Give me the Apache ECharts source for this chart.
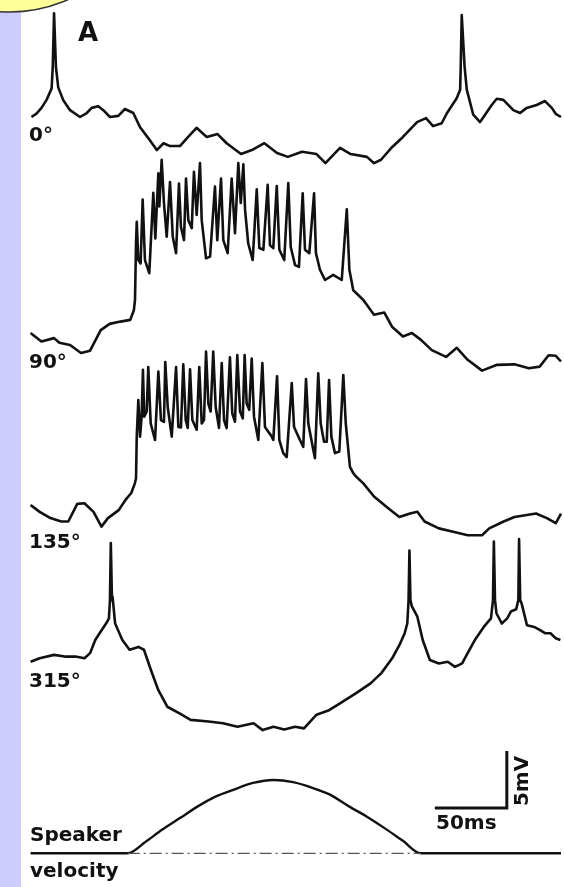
<!DOCTYPE html>
<html>
<head>
<meta charset="utf-8">
<script src="https://cdn.jsdelivr.net/npm/echarts@6/dist/echarts.min.js"></script>
<style>
html, body { margin: 0; padding: 0; background: #fff; }
#chart { width: 564px; height: 887px; }
</style>
</head>
<body>
<div id="chart"></div>
<script>
// [time ms, potential mV relative to the start of the trace]
const trace0 = [[1,0],[4.5,0.3],[8,0.8],[11.5,1.5],[15,2.5],[15.8,4.4],[16.7,9.1],[18,4.4],[19.6,2.6],[23,1.5],[27.8,0.6],[34.7,0],[39.4,0.35],[42.8,0.8],[47.4,0.95],[50.9,0.6],[55.5,0],[61.3,0.1],[65.9,0.7],[71.7,0.35],[76.4,-0.9],[82.1,-1.85],[88,-2.9],[92.7,-2.3],[97.2,-2.55],[104.1,-2.55],[109,-1.85],[115.6,-0.95],[122.7,-1.75],[130.2,-1.5],[136.5,-2.3],[146.5,-3.25],[154,-2.9],[162.7,-2.3],[171.5,-3.15],[179,-3.5],[188.8,-3.05],[198.9,-3.25],[205.1,-4.05],[215.2,-2.7],[222.6,-3.25],[233.9,-3.5],[238.8,-4.05],[243.7,-3.75],[251.3,-2.65],[258.9,-1.75],[268.7,-0.45],[274.9,-0.1],[279.8,-0.8],[285.8,-0.55],[289.5,0.35],[296.2,1.65],[298.6,2.4],[299,4.4],[299.7,8.95],[301.7,4.4],[303.2,2.4],[307.7,0.2],[312.4,-0.45],[315.9,0.2],[320.5,1.05],[324,1.6],[328.6,1.5],[335.5,0.6],[340.2,0.35],[344.8,0.8],[351.7,1.05],[357.5,1.4],[362.2,0.8],[365.2,0.25],[368.6,0]];

const trace90 = [[0.4,0],[7.9,-0.75],[16.7,-0.45],[20.4,-0.85],[27.8,-1.05],[35.4,-1.75],[41.7,-1.55],[49.1,0.25],[55.3,0.8],[62.8,1],[69.6,1.15],[72.1,2],[72.9,2.9],[73.6,7.9],[74.1,9.75],[75.2,6.4],[76.8,6.1],[78.2,11.7],[79.8,6.4],[82.8,5.25],[85.6,12.3],[87,8.3],[89.1,14],[89.8,11.1],[91.4,15.2],[93,11.4],[94.9,8.45],[97.2,13.25],[99.1,8.45],[101.4,7],[103.4,13.1],[104.8,9.3],[106.9,8.15],[108.3,13.55],[109.9,9.9],[112.3,9.2],[113.8,14.15],[115.7,10.35],[118,14.9],[119.2,9.9],[122.2,6.55],[125,6.7],[128.4,12.85],[130,8.15],[132.6,13.55],[134.2,8.15],[137.2,7],[140,13.55],[142.3,8.75],[144.6,14.9],[146.3,11.4],[148.1,14.8],[149.3,10.8],[151.5,7.85],[154.6,6.4],[157.4,12.6],[159.2,7.45],[162,7.3],[165,13],[166.6,7.7],[168.9,7.45],[171.3,12.9],[173.1,7.3],[176.5,6.4],[179.3,13.15],[181,7.55],[184,5.95],[186.7,5.8],[189.3,12.25],[190.9,7.3],[193.9,7],[197.2,12.25],[198.5,7],[201.3,5.55],[204.8,4.65],[210.5,5.1],[216.4,4.65],[219.9,10.85],[221.7,5.55],[224.4,3.75],[231.4,2.9],[238.8,1.6],[245.9,1.8],[251.3,0.55],[258.9,-0.3],[265.1,0],[271.4,-0.6],[278.9,-1.5],[288.8,-2.1],[296.3,-1.3],[303.8,-2.35],[313.8,-3.3],[323.8,-2.8],[336.3,-2.75],[346.3,-3.1],[353.8,-2.95],[360,-1.95],[365,-2],[368.6,-2.5]];

const trace135 = [[0.4,0],[6.7,-0.6],[14.2,-1.15],[21.7,-1.45],[26.6,-1.45],[32.8,0.1],[37.8,0.15],[44.1,-0.6],[49.6,-1.9],[54.1,-1.15],[61.6,-0.45],[66.6,0.5],[70.3,1.05],[72.8,1.9],[73.6,2.35],[74.1,6],[75.2,9.2],[76.4,6],[77.5,7.75],[78.4,11.85],[79.3,7.75],[81,8.2],[82.1,12.1],[83.8,7.15],[86.8,5.7],[89.1,11.7],[90.9,7.45],[93,7.3],[93.9,12.55],[95.6,8.6],[98.4,6],[101.4,12.1],[103,6.85],[104.8,6.8],[106.4,12.35],[108.1,7.45],[109.5,6.75],[111.1,11.9],[112.7,7.45],[115.7,6.6],[117.5,12.1],[119.2,7.15],[120.8,7.45],[122.2,13.45],[123.8,8.9],[125.4,8.2],[127.2,13.45],[128.9,8.6],[131.2,6.75],[133.1,12.45],[134.7,7.45],[136.5,6.75],[138.8,12.95],[140.4,8.05],[142.3,7.3],[143.9,13.15],[145.8,8.2],[147.7,7.6],[149,13.15],[150.4,8.9],[152.2,8.35],[153.9,12.85],[155.5,7.75],[158.5,5.7],[161.3,12.45],[163.1,6.85],[167.8,6],[168.9,5.7],[171.5,11.3],[173.1,5.7],[175.8,4.55],[178.2,4.2],[181.7,10.7],[183.3,6.85],[187.4,5.7],[189.7,5.1],[191.6,11.05],[193.2,7.15],[196.7,4.8],[197.8,4.1],[200.1,11.55],[201.8,7.15],[204.1,5.55],[206,5.55],[207.6,10.95],[209.2,6],[211.7,4.55],[214.7,4.7],[217.5,11.4],[219.2,7.15],[222.1,3.35],[224.4,2.8],[226.3,2.5],[231.4,1.9],[238.8,0.75],[248.9,-0.3],[256.4,-1.05],[263.8,-0.75],[268.9,-0.6],[273.9,-1.45],[283.8,-2.05],[293.8,-2.35],[303.8,-2.65],[313.8,-2.65],[318.8,-2.05],[328.8,-1.45],[336.3,-1.05],[343.8,-0.9],[351.3,-0.75],[358.8,-1.15],[365,-1.6],[368.6,-0.75]];

const trace315 = [[0.4,-0.15],[6.7,0.15],[16.7,0.45],[24.1,0.3],[31.6,0.3],[37.8,0.15],[41.7,0.6],[45.3,1.75],[49.1,2.5],[52.8,3.2],[54.8,3.65],[55.5,5.25],[56.1,10.25],[56.9,5.25],[57.3,5.55],[59.1,3.2],[64.1,1.75],[69.1,0.9],[75.3,1.15],[79.1,0.9],[84,-0.9],[89.1,-2.65],[95.3,-4.1],[104.1,-4.7],[111.5,-5.25],[124,-5.4],[134,-5.55],[144,-5.85],[155.2,-5.55],[161.5,-6.15],[169,-5.85],[176.5,-6.1],[184,-5.85],[190.2,-6],[198.9,-4.8],[207.6,-4.4],[215.2,-3.8],[226.4,-2.9],[236.4,-2.05],[243.9,-1.15],[251.4,0.15],[256.4,1.3],[260.1,2.35],[261.9,3.2],[262.8,5.25],[263.4,9.6],[264.1,5.25],[265.1,4.7],[268.9,3.8],[272.6,1.75],[277.6,0],[283.8,-0.3],[290,-0.15],[295,-0.6],[300,-0.3],[303.8,0.6],[308.8,1.75],[315,2.9],[320,3.65],[321.4,5.25],[322,10.4],[322.8,5.25],[323.8,4.1],[327.5,3.2],[331.3,3.65],[333.8,4.25],[337.5,4.45],[339,5.25],[339.5,10.6],[340.3,5.25],[341.3,4.95],[345,3.05],[350,2.9],[353.8,2.65],[357.5,2.35],[361.3,2.35],[365,1.9],[368.2,1.75]];

// speaker velocity, fraction of its peak
const speakerVelocity = [[0.4,0],[67.8,0],[79.8,0.15],[91.6,0.32],[104.1,0.48],[116.5,0.64],[128.4,0.77],[141.5,0.87],[154.8,0.96],[169,1],[182.6,0.97],[196.5,0.89],[208.3,0.8],[221.4,0.64],[233.9,0.5],[246.4,0.34],[258.9,0.17],[271.4,0],[368.6,0]];
const stimulusMs = [67.8, 271.4];

const traceLabels = ["0°", "90°", "135°", "315°"];
const scaleBarMs = 50;
const scaleBarMv = 5;
const scaleBarEndMs = 331;

// layout
const PX_PER_MV = 11.4;
const SPEAKER_PX = 73.3;
const X_LEFT = 30, X_WIDTH = 533, X_MAX = 370;
const traceZeroY = [117, 333, 505, 660];
const traceRange = [[-5, 10], [-4, 16], [-3, 14], [-7, 11]];
const labelY = [136, 363, 543, 682];
const FONT = '"DejaVu Sans", sans-serif';

const chart = echarts.init(document.getElementById("chart"), null, { renderer: "canvas" });

const grids = [], xAxis = [], yAxis = [], series = [];
const addGrid = (zeroY, lo, hi, pxPerUnit) => {
    const idx = grids.length;
    grids.push({ left: X_LEFT, width: X_WIDTH, top: zeroY - hi * pxPerUnit, height: (hi - lo) * pxPerUnit });
    xAxis.push({ type: "value", gridIndex: idx, min: 0, max: X_MAX, show: false });
    yAxis.push({ type: "value", gridIndex: idx, min: lo, max: hi, show: false });
    return idx;
};
const lineSeries = (idx, data, style, extra) => Object.assign({
    type: "line", xAxisIndex: idx, yAxisIndex: idx, data,
    showSymbol: false, clip: false, animation: false, silent: true,
    lineStyle: Object.assign({ color: "#111", width: 2.6, join: "round" }, style || {})
}, extra || {});

[trace0, trace90, trace135, trace315].forEach((tr, i) => {
    const g = addGrid(traceZeroY[i], traceRange[i][0], traceRange[i][1], PX_PER_MV);
    series.push(lineSeries(g, tr));
});

// scale bar
const gBar = addGrid(808, -1, 6, PX_PER_MV);
series.push(lineSeries(gBar, [[scaleBarEndMs - scaleBarMs, 0], [scaleBarEndMs, 0], [scaleBarEndMs, scaleBarMv]], { width: 3, join: "miter" }));

// speaker velocity
const gSpk = addGrid(853.3, -0.1, 1.1, SPEAKER_PX);
series.push(lineSeries(gSpk, speakerVelocity, { width: 2.4 }, { smooth: 0.3 }));
series.push(lineSeries(gSpk, [[stimulusMs[0], 0], [stimulusMs[1], 0]], { color: "#555", width: 1.3, type: [12, 4, 2, 4] }));

const text = (str, x, y, size, extra) => ({
    type: "text", x, y, silent: true,
    style: Object.assign({ text: str, font: "bold " + size + "px " + FONT, fill: "#111", textAlign: "left", textVerticalAlign: "middle" }, extra || {})
});

const graphic = [
    { type: "rect", shape: { x: 0, y: 0, width: 21, height: 887 }, style: { fill: "#ccccff" }, silent: true },
    { type: "circle", shape: { cx: 10, cy: -130, r: 142 }, style: { fill: "#ffff99", stroke: "#333", lineWidth: 1.5 }, silent: true },
    text("A", 78, 34, 26)
];
traceLabels.forEach((s, i) => graphic.push(text(s, 29, labelY[i], 20)));
graphic.push(text("Speaker", 30, 836, 20));
graphic.push(text("velocity", 30, 872, 20));
graphic.push(text("50ms", 436, 824, 20));
graphic.push(Object.assign(text("5mV", 523, 781, 20, { textAlign: "center" }), { rotation: Math.PI / 2 }));

chart.setOption({
    backgroundColor: "#fff",
    animation: false,
    grid: grids,
    xAxis,
    yAxis,
    series,
    graphic
});
</script>
</body>
</html>
